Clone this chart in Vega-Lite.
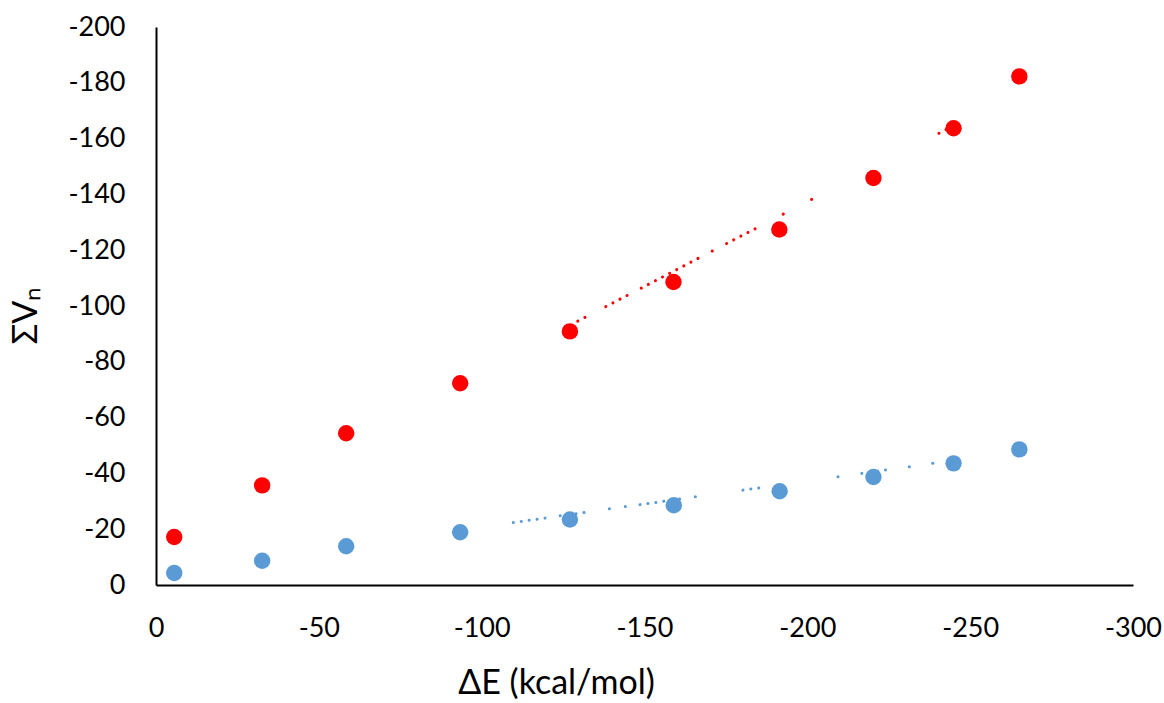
{
  "$schema": "https://vega.github.io/schema/vega-lite/v6.json",
  "width": 977,
  "height": 558,
  "autosize": {"type": "none"},
  "padding": {"left": 156, "top": 27, "right": 31, "bottom": 118},
  "background": "white",
  "config": {
    "view": {"stroke": null},
    "axis": {
      "grid": false,
      "ticks": false,
      "domainColor": "#000000",
      "domainWidth": 2,
      "labelFont": "Lato",
      "labelFontSize": 27,
      "labelColor": "#000000",
      "titleFont": "Lato",
      "titleFontWeight": "normal",
      "titleColor": "#000000"
    }
  },
  "datasets": {
    "points": [
      {"series": "red", "dE": -5.6, "V": -17.2},
      {"series": "red", "dE": -32.6, "V": -35.7},
      {"series": "red", "dE": -58.4, "V": -54.4},
      {"series": "red", "dE": -93.4, "V": -72.3},
      {"series": "red", "dE": -127.1, "V": -90.9},
      {"series": "red", "dE": -158.9, "V": -108.6},
      {"series": "red", "dE": -191.4, "V": -127.4},
      {"series": "red", "dE": -220.3, "V": -145.9},
      {"series": "red", "dE": -244.9, "V": -163.7},
      {"series": "red", "dE": -265.1, "V": -182.3},
      {"series": "blue", "dE": -5.6, "V": -4.3},
      {"series": "blue", "dE": -32.6, "V": -8.7},
      {"series": "blue", "dE": -58.4, "V": -13.9},
      {"series": "blue", "dE": -93.4, "V": -18.9},
      {"series": "blue", "dE": -127.1, "V": -23.5},
      {"series": "blue", "dE": -159.0, "V": -28.6},
      {"series": "blue", "dE": -191.5, "V": -33.6},
      {"series": "blue", "dE": -220.3, "V": -38.7},
      {"series": "blue", "dE": -244.9, "V": -43.6},
      {"series": "blue", "dE": -265.1, "V": -48.6}
    ],
    "trend": [
      {"series": "red", "seg": "r1", "dE": -129.5, "V": -94.6},
      {"series": "red", "seg": "r1", "dE": -133.8, "V": -97.2},
      {"series": "red", "seg": "r2", "dE": -138.1, "V": -99.8},
      {"series": "red", "seg": "r2", "dE": -144.7, "V": -103.8},
      {"series": "red", "seg": "r3", "dE": -149.0, "V": -106.4},
      {"series": "red", "seg": "r3", "dE": -166.5, "V": -117.1},
      {"series": "red", "seg": "r4", "dE": -170.8, "V": -119.7},
      {"series": "red", "seg": "r4", "dE": -171.0, "V": -119.8},
      {"series": "red", "seg": "r5", "dE": -175.2, "V": -122.4},
      {"series": "red", "seg": "r5", "dE": -184.0, "V": -127.7},
      {"series": "red", "seg": "r6", "dE": -192.6, "V": -132.9},
      {"series": "red", "seg": "r6", "dE": -192.8, "V": -133.0},
      {"series": "red", "seg": "r7", "dE": -201.3, "V": -138.2},
      {"series": "red", "seg": "r7", "dE": -201.5, "V": -138.3},
      {"series": "red", "seg": "r8", "dE": -240.4, "V": -161.9},
      {"series": "red", "seg": "r8", "dE": -246.9, "V": -165.9},
      {"series": "blue", "seg": "b1", "dE": -109.7, "V": -22.4},
      {"series": "blue", "seg": "b1", "dE": -119.6, "V": -24.0},
      {"series": "blue", "seg": "b2", "dE": -124.1, "V": -24.8},
      {"series": "blue", "seg": "b2", "dE": -131.7, "V": -26.0},
      {"series": "blue", "seg": "b3", "dE": -139.2, "V": -27.3},
      {"series": "blue", "seg": "b3", "dE": -139.4, "V": -27.3},
      {"series": "blue", "seg": "b4", "dE": -144.1, "V": -28.1},
      {"series": "blue", "seg": "b4", "dE": -144.3, "V": -28.1},
      {"series": "blue", "seg": "b5", "dE": -148.6, "V": -28.8},
      {"series": "blue", "seg": "b5", "dE": -160.8, "V": -30.8},
      {"series": "blue", "seg": "b6", "dE": -165.6, "V": -31.6},
      {"series": "blue", "seg": "b6", "dE": -165.8, "V": -31.6},
      {"series": "blue", "seg": "b7", "dE": -180.2, "V": -34.0},
      {"series": "blue", "seg": "b7", "dE": -185.1, "V": -34.8},
      {"series": "blue", "seg": "b8", "dE": -209.4, "V": -38.8},
      {"series": "blue", "seg": "b8", "dE": -209.6, "V": -38.8},
      {"series": "blue", "seg": "b9", "dE": -216.7, "V": -40.0},
      {"series": "blue", "seg": "b9", "dE": -224.0, "V": -41.2},
      {"series": "blue", "seg": "b10", "dE": -231.3, "V": -42.4},
      {"series": "blue", "seg": "b10", "dE": -231.5, "V": -42.4},
      {"series": "blue", "seg": "b11", "dE": -238.5, "V": -43.6},
      {"series": "blue", "seg": "b11", "dE": -238.7, "V": -43.6}
    ]
  },
  "encoding": {
    "x": {
      "field": "dE",
      "type": "quantitative",
      "scale": {"domain": [-300, 0], "reverse": true, "nice": false, "zero": false},
      "axis": {
        "values": [0, -50, -100, -150, -200, -250, -300],
        "labelExpr": "'' + datum.value",
        "labelPadding": 30,
        "labelFontSize": 27,
        "title": "ΔE (kcal/mol)",
        "titleFontSize": 34,
        "titleX": 400,
        "titleY": 108,
        "titleAlign": "center",
        "titleBaseline": "alphabetic",
        "labelFlush": false,
        "labelOverlap": false
      }
    },
    "y": {
      "field": "V",
      "type": "quantitative",
      "scale": {"domain": [-200, 0], "reverse": true, "nice": false, "zero": false},
      "axis": {
        "values": [0, -20, -40, -60, -80, -100, -120, -140, -160, -180, -200],
        "labelExpr": "'' + datum.value",
        "labelPadding": 31,
        "labelFontSize": 27,
        "title": "ΣVₙ",
        "titleFontSize": 34,
        "titleAngle": -90,
        "titleX": -130,
        "titleY": 288,
        "titleAlign": "center",
        "titleBaseline": "middle",
        "labelFlush": false,
        "labelOverlap": false
      }
    },
    "color": {
      "field": "series",
      "type": "nominal",
      "scale": {"domain": ["red", "blue"], "range": ["#FF0000", "#5B9BD5"]},
      "legend": null
    }
  },
  "layer": [
    {
      "data": {"name": "points"},
      "mark": {"type": "point", "filled": true, "shape": "circle", "size": 270, "opacity": 1}
    },
    {
      "data": {"name": "trend"},
      "mark": {"type": "line", "strokeWidth": 3, "strokeCap": "round", "strokeDash": [0.1, 7.9]},
      "encoding": {
        "detail": {"field": "seg", "type": "nominal"},
        "order": {"field": "dE", "sort": "descending"}
      }
    }
  ]
}
